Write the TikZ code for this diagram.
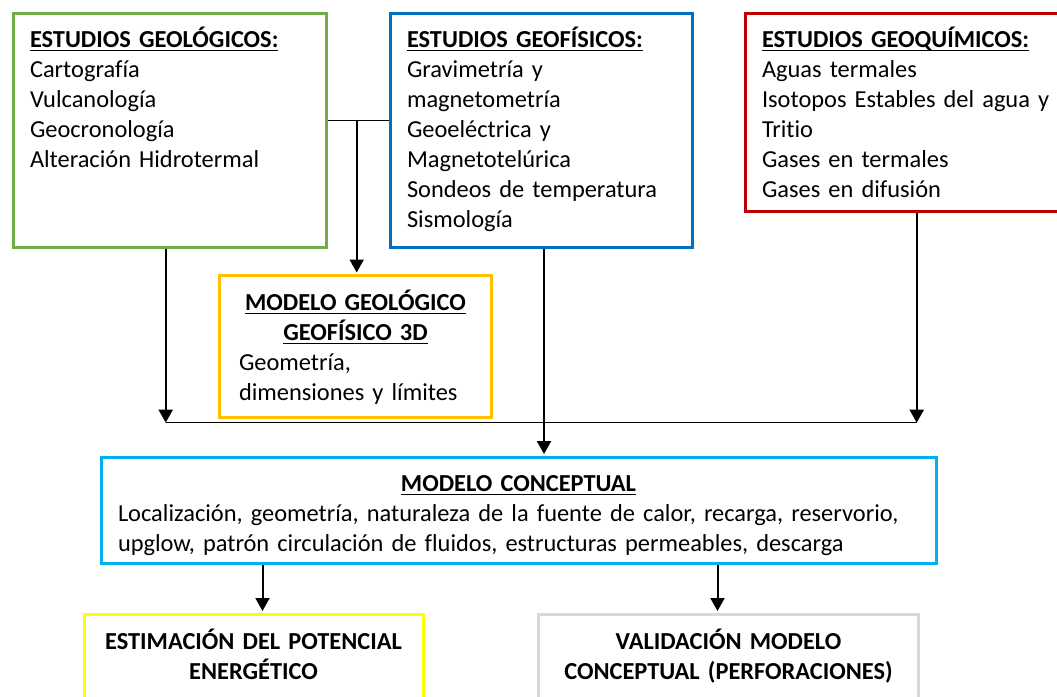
\documentclass[tikz,border=0pt]{standalone}
\usepackage{fontspec}
\setmainfont{Carlito}[Ligatures=NoCommon]
\usetikzlibrary{arrows.meta,positioning}
\definecolor{GeoGreen}{HTML}{70AD47}
\definecolor{GeoBlue}{HTML}{0070C0}
\definecolor{GeoRed}{HTML}{C00000}
\definecolor{GeoGold}{HTML}{FFC000}
\definecolor{GeoCyan}{HTML}{00B0F0}
\definecolor{GeoYellow}{HTML}{FFFF00}
\definecolor{GeoGrey}{HTML}{D9D9D9}
\newcommand{\ulhead}[1]{\leavevmode\setbox0\hbox{\textbf{#1}}\rlap{\rule[-3.5pt]{\wd0}{1.4pt}}\box0}

\begin{document}
\begin{tikzpicture}[
  x=1pt,y=-1pt,
  flow/.style={
    -{Triangle[length=13pt,width=14pt]},
    line width=2pt,
    draw=black
  },
  joint/.style={
    line width=1.3pt,
    draw=black
  },
  studybox/.style={
    line width=3pt,
    fill=white,
    anchor=north west,
    align=left,
    inner xsep=17pt,
    inner ysep=10pt,
    text height=24.5pt,
    font=\fontsize{24.4}{30}\selectfont,
    text=black
  },
  resultbox/.style={
    line width=3pt,
    fill=white,
    anchor=north west,
    align=center,
    inner xsep=10pt,
    inner ysep=10pt,
    text height=25.5pt,
    text depth=100pt,
    font=\bfseries\fontsize{24.4}{30}\selectfont,
    text=black
  }
]
\clip (0,0) rectangle (1057,696);

% -------------------------------------------------
% Top row: studies
% -------------------------------------------------
\node[studybox, draw=GeoGreen, text width=279pt, text depth=189.5pt] (geo) at (11.5,11.5)
{\ulhead{ESTUDIOS GEOLÓGICOS:}\\
Cartografía\\
Vulcanología\\
Geocronología\\
Alteración Hidrotermal};

\node[studybox, draw=GeoBlue, text width=268pt, text depth=189.5pt] (geof) at (388.5,11.5)
{\ulhead{ESTUDIOS GEOFÍSICOS:}\\
Gravimetría y\\
magnetometría\\
Geoeléctrica y\\
Magnetotelúrica\\
Sondeos de temperatura\\
Sismología};

\node[studybox, draw=GeoRed, text width=311pt, text depth=153.5pt] (quim) at (743.5,11.5)
{\ulhead{ESTUDIOS GEOQUÍMICOS:}\\
Aguas termales\\
Isotopos Estables del agua y\\
Tritio\\
Gases en termales\\
Gases en difusión};

% -------------------------------------------------
% 3D model
% -------------------------------------------------
\node[studybox, draw=GeoGold, inner xsep=19.5pt, text width=233pt,
  text height=25pt, text depth=96.5pt] (mod3d) at (218,274)
{{\centering\ulhead{MODELO GEOLÓGICO}\\
\ulhead{GEOFÍSICO 3D}\par}
Geometría,\\
dimensiones y límites};

% -------------------------------------------------
% Conceptual model
% -------------------------------------------------
\node[studybox, draw=GeoCyan, text width=801pt, text depth=61.5pt] (conc) at (99.5,455.5)
{{\centering\ulhead{MODELO CONCEPTUAL}\par}
Localización, geometría, naturaleza de la fuente de calor, recarga, reservorio,\\
upglow, patrón circulación de fluidos, estructuras permeables, descarga};

% -------------------------------------------------
% Results
% -------------------------------------------------
\node[resultbox, draw=GeoYellow, text width=319pt] (pot) at (82.5,612.5)
{ESTIMACIÓN DEL POTENCIAL\\
ENERGÉTICO};

\node[resultbox, draw=GeoGrey, text width=360pt] (val) at (537,612.5)
{VALIDACIÓN MODELO\\
CONCEPTUAL (PERFORACIONES)};

% -------------------------------------------------
% Connectors
% -------------------------------------------------
\coordinate (gjoin) at (356.7,120.7);
\coordinate (busL) at (165.7,422.7);
\coordinate (busR) at (916.7,422.7);

\draw[joint] (geo.east |- gjoin) -- (geof.west |- gjoin);
\draw[flow, shorten >=1.5pt] (gjoin) -- (gjoin |- mod3d.north);

\draw[flow] (geo.south -| busL) -- (busL);
\draw[flow] (quim.south -| busR) -- (busR);
\draw[joint] (busL) -- (busR);
\draw[flow, shorten >=1.5pt] ([xshift=3pt]geof.south) -- ([xshift=3pt]geof.south |- conc.north);

\draw[flow, shorten >=1.5pt] ([xshift=9pt]pot.north |- conc.south) -- ([xshift=9pt]pot.north);
\draw[flow, shorten >=1.5pt] ([xshift=-11pt]val.north |- conc.south) -- ([xshift=-11pt]val.north);

\end{tikzpicture}
\end{document}
